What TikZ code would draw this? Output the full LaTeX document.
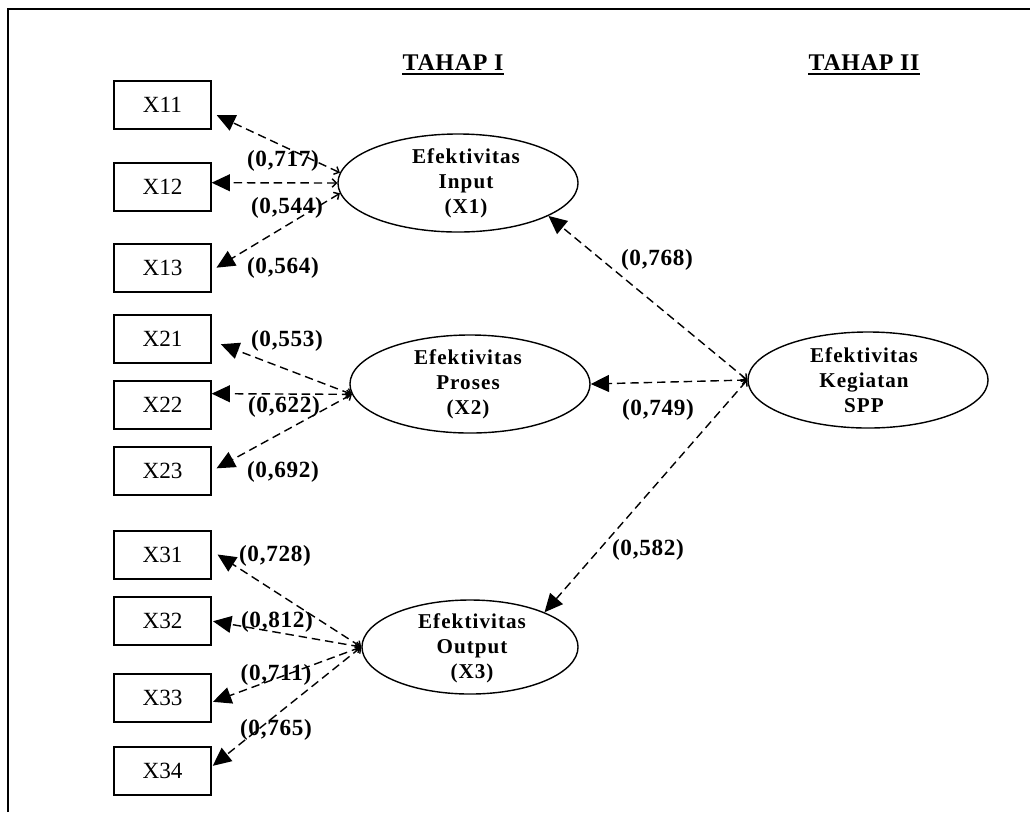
\documentclass[tikz,border=0pt]{standalone}
\usepackage{fontspec}
\setmainfont{Liberation Serif}
\newfontfamily\spacedfont[LetterSpace=5]{Liberation Serif}
\newfontfamily\coeffont[LetterSpace=3]{Liberation Serif}
\usetikzlibrary{arrows.meta,shapes.geometric}
\tikzset{
	indbox/.style={draw, line width=0.9pt, minimum width=2.425cm, minimum height=1.2cm, inner sep=0pt,
			font=\fontsize{16.5}{18}\selectfont},
	latent/.style={draw, ellipse, line width=1pt, inner sep=0pt, minimum width=6cm, minimum height=2.45cm},
	lattext/.style={align=center, inner sep=0pt, font=\spacedfont\bfseries\fontsize{15}{17.8}\selectfont},
	coef/.style={inner sep=0pt, font=\coeffont\bfseries\fontsize{16.5}{19}\selectfont},
	head/.style={anchor=base, inner sep=0pt, font=\coeffont\bfseries\fontsize{17}{20}\selectfont},
	load/.style={dash pattern=on 6pt off 3.5pt, line width=1pt,
			{Straight Barb[length=3pt,width=6pt]}-{Triangle[length=13pt,width=12pt]}}
}

\begin{document}
\begin{tikzpicture}[x=0.025cm, y=-0.025cm]
	\useasboundingbox (0,0) rectangle (1030,812);
	% frame
	\draw[line width=1.4pt] (8,812) -- (8,9) -- (1030,9);

	% headings
	\node[head] (tahap1) at (453,70) {TAHAP I};
	\node[head] (tahap2) at (864,70) {TAHAP II};
	\draw[line width=1.4pt] ([yshift=-3pt]tahap1.base west) -- ([yshift=-3pt]tahap1.base east);
	\draw[line width=1.4pt] ([yshift=-3pt]tahap2.base west) -- ([yshift=-3pt]tahap2.base east);

	% indicators
	\node[indbox] (x11) at (162.5,105) {X11};
	\node[indbox] (x12) at (162.5,187) {X12};
	\node[indbox] (x13) at (162.5,268) {X13};
	\node[indbox] (x21) at (162.5,339) {X21};
	\node[indbox] (x22) at (162.5,405) {X22};
	\node[indbox] (x23) at (162.5,471) {X23};
	\node[indbox] (x31) at (162.5,555) {X31};
	\node[indbox] (x32) at (162.5,621) {X32};
	\node[indbox] (x33) at (162.5,698) {X33};
	\node[indbox] (x34) at (162.5,771) {X34};

	% latent variables
	\node[latent] (x1) at (458,183) {};
	\node[latent] (x2) at (470,384) {};
	\node[latent, minimum width=5.4cm, minimum height=2.35cm] (x3) at (470,647) {};
	\node[latent, minimum height=2.4cm] (spp) at (868,380) {};
	\node[lattext] (x1t) at (466,183) {Efektivitas\\Input\\(X1)};
	\node[lattext] (x2t) at (468,384) {Efektivitas\\Proses\\(X2)};
	\node[lattext] (x3t) at (472,648) {Efektivitas\\Output\\(X3)};
	\node[lattext] (sppt) at (864,380) {Efektivitas\\Kegiatan\\SPP};

	% loadings
	\draw[load, shorten >=4pt] (x1.175) -- (x11.-9);
	\draw[load] (x1.west) -- (x12.5);
	\draw[load, shorten >=4pt] (x1.185) -- (x13.-3);
	\draw[load, shorten >=7pt] (x2.185) -- (x21.-2);
	\draw[load] (x2.185) -- (x22.13);
	\draw[load, shorten >=4pt] (x2.185) -- (x23.east);
	\draw[load, shorten >=5pt] (x3.west) -- (x31.5);
	\draw[load, shorten >=1pt] (x3.west) -- (x32.east);
	\draw[load, shorten >=1pt] (x3.west) -- (x33.-5);
	\draw[load, shorten >=1pt] (x3.west) -- (x34.5);
	\draw[load] (spp.west) -- (x1.-20);
	\draw[load] (spp.west) -- (x2.east);
	\draw[load] (spp.west) -- (x3.25);

	% coefficients
	\node[coef] (c11) at (283,161) {(0,717)};
	\node[coef] (c12) at (287,208) {(0,544)};
	\node[coef] (c13) at (283,268) {(0,564)};
	\node[coef] (c21) at (287,341) {(0,553)};
	\node[coef] (c22) at (284,407) {(0,622)};
	\node[coef] (c23) at (283,472) {(0,692)};
	\node[coef] (c31) at (275,556) {(0,728)};
	\node[coef] (c32) at (277,622) {(0,812)};
	\node[coef] (c33) at (276,675) {(0,711)};
	\node[coef] (c34) at (276,730) {(0,765)};
	\node[coef] (c1) at (657,260) {(0,768)};
	\node[coef] (c2) at (658,410) {(0,749)};
	\node[coef] (c3) at (648,550) {(0,582)};
\end{tikzpicture}
\end{document}
